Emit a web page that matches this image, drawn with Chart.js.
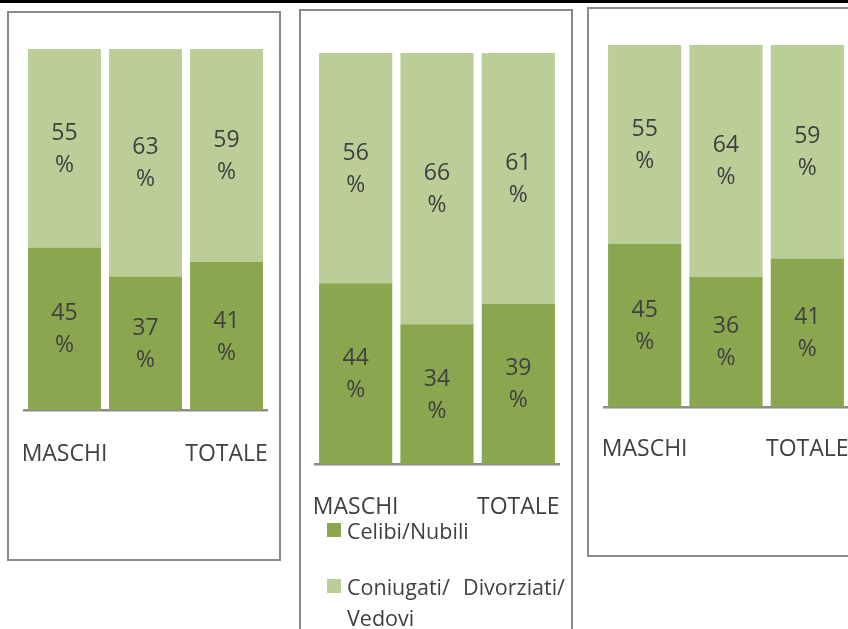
<!DOCTYPE html>
<html>
<head>
<meta charset="utf-8">
<script src="https://cdn.jsdelivr.net/npm/chart.js@4.4.1/dist/chart.umd.min.js"></script>
<style>
  html, body { margin: 0; padding: 0; background: #fff; }
  body { width: 848px; height: 629px; position: relative; overflow: hidden; font-family: 'Open Sans', sans-serif; }
  .topbar { position: absolute; left: 0; top: 0; width: 848px; height: 3px; background: #000; }
  .panel { position: absolute; box-sizing: border-box; border: 2px solid #8a8a8a; background: #fff; }
  canvas { position: absolute; }
  .legend-item { position: absolute; left: 327px; }
  .legend-item .box { position: absolute; left: 0; width: 14px; height: 14px; }
  .legend-item .txt { position: absolute; left: 20px; width: 218px; font-size: 21.5px; line-height: 31px; color: #404040; text-align: justify; }
</style>
</head>
<body>
<div class="topbar"></div>
<div class="panel" style="left:7px; top:11px; width:274px; height:550px;"></div>
<div class="panel" style="left:299px; top:9px; width:274px; height:640px;"></div>
<div class="panel" style="left:587px; top:7px; width:300px; height:550px;"></div>
<canvas id="chart1"></canvas>
<canvas id="chart2"></canvas>
<canvas id="chart3"></canvas>
<div id="legend"></div>
<script>
// categories and series
const categories = ['MASCHI', 'FEMMINE', 'TOTALE'];
const seriesNames = ['Celibi/Nubili', 'Coniugati/ Divorziati/ Vedovi'];
const seriesColors = ['#8aa64e', '#bbce98'];

// percentages per panel (left, middle, right)
const celibi1 = [45, 37, 41];
const coniugati1 = [55, 63, 59];
const celibi2 = [44, 34, 39];
const coniugati2 = [56, 66, 61];
const celibi3 = [45, 36, 41];
const coniugati3 = [55, 64, 59];

const textColor = '#404040';
const PAD = 12;
const AXIS_H = 70;

// two-line "NN / %" label in the middle of each stacked segment
const percentLabels = {
  id: 'percentLabels',
  afterDatasetsDraw(chart) {
    const { ctx } = chart;
    ctx.save();
    ctx.font = '23px "Open Sans"';
    ctx.fillStyle = textColor;
    ctx.textAlign = 'center';
    ctx.textBaseline = 'middle';
    chart.data.datasets.forEach((ds, i) => {
      chart.getDatasetMeta(i).data.forEach((bar, j) => {
        const mid = (bar.y + bar.base) / 2;
        ctx.fillText(String(ds.data[j]), bar.x, mid - 15);
        ctx.fillText('%', bar.x, mid + 17);
      });
    });
    ctx.restore();
  }
};

const buildPanel = (canvas, celibi, coniugati, area) => {
  canvas.width = area.width + PAD * 2;
  canvas.height = area.height + PAD + AXIS_H;
  canvas.style.left = (area.left - PAD) + 'px';
  canvas.style.top = (area.top - PAD) + 'px';

  new Chart(canvas, {
    type: 'bar',
    data: {
      labels: categories,
      datasets: [
        { label: seriesNames[0], data: celibi, backgroundColor: seriesColors[0] },
        { label: seriesNames[1], data: coniugati, backgroundColor: seriesColors[1] },
      ],
    },
    options: {
      responsive: false,
      animation: false,
      devicePixelRatio: 1,
      layout: { padding: { left: PAD, right: PAD, top: PAD, bottom: 0 } },
      datasets: { bar: { barPercentage: 0.9, categoryPercentage: 1 } },
      plugins: { legend: { display: false }, tooltip: { enabled: false } },
      scales: {
        x: {
          stacked: true,
          // tick marks stay invisible; their length only pushes the labels down
          grid: { display: false, drawTicks: true, tickLength: area.labelGap - 12 },
          border: { display: true, color: '#8c8c8c', width: 2.5 },
          ticks: {
            color: textColor,
            font: { family: 'Open Sans', size: 23 },
            padding: 0,
            maxRotation: 0,
            minRotation: 0,
            autoSkip: true,
          },
          afterFit: scale => { scale.height = AXIS_H; },
        },
        y: { stacked: true, display: false, min: 0, max: 100 },
      },
    },
    plugins: [percentLabels],
  });
};

buildPanel(document.getElementById('chart1'), celibi1, coniugati1,
  { left: 24, top: 49, width: 243, height: 361, labelGap: 43 });
buildPanel(document.getElementById('chart2'), celibi2, coniugati2,
  { left: 314.75, top: 53, width: 244.5, height: 411, labelGap: 42 });
buildPanel(document.getElementById('chart3'), celibi3, coniugati3,
  { left: 603.5, top: 45, width: 244.5, height: 362, labelGap: 41 });

// legend under the middle panel
const legend = document.getElementById('legend');
const legendTops = [514.5, 570.5];
seriesNames.forEach((name, i) => {
  const item = document.createElement('div');
  item.className = 'legend-item';
  item.style.top = legendTops[i] + 'px';
  item.innerHTML = `<div class="box" style="top:8.5px; background:${seriesColors[i]}"></div><div class="txt">${name}</div>`;
  legend.appendChild(item);
});
</script>
</body>
</html>
